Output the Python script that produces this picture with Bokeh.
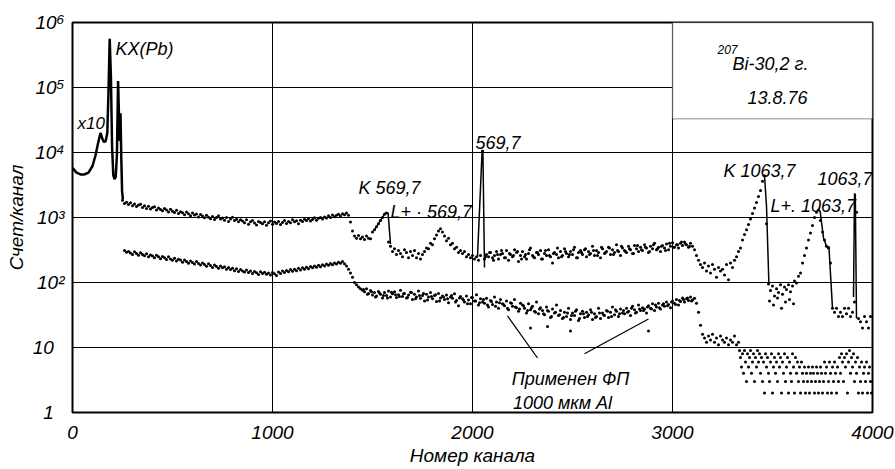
from bokeh.plotting import figure
from bokeh.models import Label, FixedTicker, BoxAnnotation
from bokeh.embed import file_html
from bokeh.resources import INLINE

FONT = "Liberation Sans"

# ---- spectrum without absorber: traced low-energy part (KX(Pb) lines)
kx_channel = [0, 20, 40, 60, 80, 100, 115, 128, 140, 150, 158, 166, 174, 180, 186,
              192, 198, 204, 210, 216, 222, 228, 233, 236, 240, 244, 248, 252]
kx_counts = [5800, 4900, 4600, 4600, 4900, 6200, 9000, 14000, 20000, 16000, 14500,
             15000, 20000, 90000, 560000, 150000, 12000, 4500, 3900, 4200, 9000,
             126000, 30000, 15000, 40000, 8000, 2500, 1900]

# ---- spectrum without absorber: channel contents, 10-channel step from 250
upper_counts = [
    1850, 1640, 1720, 1580, 1690, 1520, 1610, 1470, 1560, 1600,
    1430, 1520, 1380, 1490, 1350, 1420, 1460, 1310, 1400, 1330,
    1270, 1380, 1300, 1210, 1340, 1250, 1190, 1290, 1150, 1230,
    1180, 1100, 1210, 1140, 1060, 1170, 1090, 1130, 1020, 1110,
    1050, 990, 1080, 1010, 960, 1040, 930, 1000, 1060, 950,
    980, 910, 1000, 870, 950, 1010, 900, 940, 860, 920,
    880, 830, 920, 790, 860, 900, 820, 770, 870, 840,
    800, 860, 760, 830, 880, 790, 850, 810, 870, 780,
    840, 900, 810, 870, 830, 920, 860, 890, 800, 910,
    870, 940, 900, 960, 880, 930, 990, 910, 970, 1000,
    950, 1020, 980, 1060, 1000, 1090, 1030, 1080, 1120, 1050,
    1140, 1100, 1170, 1080, 850, 620, 520, 480, 530, 470,
    500, 460, 520, 480, 470, 600, 650, 720, 800, 900,
    1000, 1120, 1170, 420, 360, 300, 330, 270, 310, 280,
    250, 320, 290, 240, 300, 260, 310, 240, 280, 230,
    270, 300, 340, 330, 400, 380, 470, 540, 620, 670,
    600, 520, 440, 480, 380, 400, 330, 350, 290, 310,
    280, 300, 250, 270, 240, 260, 230, 250, 220, 260,
    10500, 230, 270, 250, 290, 240, 260, 300, 230, 270,
    280, 240, 310, 220, 270, 250, 320, 290, 210, 260,
    300, 250, 230, 280, 340, 260, 240, 290, 270, 310,
    230, 280, 260, 320, 250, 200, 290, 270, 240, 300,
    260, 330, 280, 250, 300, 270, 350, 240, 290, 310,
    270, 320, 250, 300, 280, 360, 260, 310, 290, 240,
    330, 280, 300, 350, 270, 320, 290, 380, 300, 260,
    340, 310, 290, 360, 320, 280, 370, 330, 300, 350,
    310, 380, 340, 290, 360, 330, 400, 320, 350, 300,
    370, 340, 390, 320, 360, 410, 350, 380, 340, 400,
    370, 420, 380, 350, 400, 360, 320, 260, 220, 190,
    170, 200, 150, 180, 140, 190, 160, 120, 170, 150,
    160, 130, 190, 110, 200, 170, 220, 250, 300, 340,
    450, 550, 650, 780, 950, 1150, 1400, 1700, 2100, 2600,
    3600, 4400, 800, 95, 75, 88, 62, 80, 70, 92,
    66, 85, 78, 92, 72, 88, 105, 98, 125, 140,
    200, 260, 340, 450, 580, 750, 1000, 1200, 1300, 900,
    600, 450, 360, 340, 200, 40, 35, 40, 30, 35,
    30, 40, 33, 40, 30, 35, 50, 1200, 28, 25,
    20, 30, 25, 20, 30,
]
upper_channel = [250 + 10 * i for i in range(len(upper_counts))]

# extra channel contents in the flat region (odd channels, 20-channel step from 2065)
upper_flat_counts = [
    250, 290, 220, 270, 310, 240, 280, 260, 300, 230,
    270, 320, 250, 290, 230, 310, 260, 280, 340, 250,
    300, 270, 320, 240, 290, 330, 270, 310, 260, 350,
    290, 340, 270, 310, 360, 300, 330, 280, 370, 320,
    350, 300, 380, 330, 360, 310, 400, 350, 380, 420,
    390, 360,
]
upper_flat_channel = [2065 + 20 * i for i in range(len(upper_flat_counts))]

# extra contents in the valley behind K 1063,7 (20-channel step from 3485)
valley_counts = [52, 45, 58, 40, 50, 55, 47]
valley_channel = [3485 + 20 * i for i in range(len(valley_counts))]

# traced peak profiles
k569_channel = [1510, 1563, 1578, 1590]
k569_counts = [650, 1170, 1170, 390]
p569_channel = [2025, 2048, 2052, 2060]
p569_counts = [250, 10500, 10500, 170]
k1063_channel = [3450, 3460, 3470, 3482]
k1063_counts = [4400, 4400, 1500, 95]
l1063_channel = [3728, 3738, 3755, 3770, 3777, 3782, 3800]
l1063_counts = [1300, 1250, 490, 360, 340, 360, 40]
p1063_channel = [3905, 3910, 3914, 3920]
p1063_counts = [60, 2300, 2300, 28]

# ---- spectrum with 1000 um Al absorber, 10-channel step from 260
lower_counts = [
    310, 292, 301, 284, 270, 296, 279, 262, 288, 270,
    258, 276, 249, 266, 255, 240, 262, 248, 231, 252,
    240, 226, 248, 230, 219, 236, 214, 228, 221, 205,
    222, 210, 198, 215, 203, 192, 210, 196, 186, 200,
    190, 178, 194, 182, 170, 186, 176, 165, 180, 168,
    175, 160, 170, 158, 166, 152, 163, 148, 158, 150,
    145, 156, 142, 150, 138, 147, 141, 133, 146, 137,
    144, 134, 140, 130, 142, 136, 128, 145, 138, 150,
    142, 153, 146, 158, 149, 160, 152, 165, 156, 168,
    160, 172, 163, 176, 168, 180, 171, 184, 175, 188,
    180, 192, 184, 196, 188, 200, 192, 205, 198, 210,
    195, 180, 160, 140, 120, 100, 92, 85, 80, 76,
    72, 80, 68, 75, 64, 70, 62, 73, 66, 58,
    70, 63, 74, 60, 67, 72, 59, 65, 76, 61,
    68, 58, 64, 71, 55, 66, 60, 74, 57, 63,
    52, 66, 60, 70, 56, 63, 51, 68, 58, 62,
    55, 64, 49, 60, 57, 67, 53, 44, 61, 56,
    50, 62, 54, 47, 59, 52, 65, 45, 56, 50,
    48, 57, 42, 53, 46, 60, 50, 40, 55, 47,
    44, 52, 38, 49, 43, 55, 41, 36, 48, 45,
    40, 34, 47, 38, 43, 36, 50, 33, 41, 37,
    32, 42, 36, 29, 39, 34, 45, 31, 37, 28,
    35, 30, 40, 27, 34, 31, 38, 26, 33, 36,
    29, 35, 32, 38, 27, 33, 30, 40, 28, 34,
    31, 37, 29, 35, 42, 32, 36, 30, 39, 34,
    33, 40, 36, 31, 43, 38, 35, 45, 37, 41,
    39, 34, 44, 40, 47, 37, 42, 48, 39, 45,
    43, 50, 46, 41, 52, 48, 55, 45, 51, 58,
    50, 56, 53, 60, 54, 57, 48, 35, 22, 16,
    14, 12, 15, 13, 16, 12, 14, 11, 15, 13,
    12, 14, 11, 13, 12, 15, 11, 12,
]
lower_channel = [260 + 10 * i for i in range(len(lower_counts))]

# odd channels of the absorber spectrum (20-channel step from 1455)
lower_odd_counts = [
    78, 66, 72, 60, 69, 63, 58, 71, 65, 61,
    67, 59, 70, 56, 63, 68, 54, 61, 65, 52,
    60, 56, 63, 50, 58, 54, 47, 59, 52, 49,
    55, 45, 51, 43, 49, 46, 40, 48, 42, 39,
    44, 37, 41, 35, 39, 33, 37, 30, 35, 32,
    29, 34, 31, 36, 28, 33, 30, 35, 29, 34,
    32, 36, 30, 38, 33, 37, 35, 40, 34, 39,
    37, 42, 39, 45, 41, 47, 44, 50, 46, 53,
    55, 58, 52,
]
lower_odd_channel = [1455 + 20 * i for i in range(len(lower_odd_counts))]

lower_stray_channel = [2290, 2375, 2490, 2880]
lower_stray_counts = [20, 21, 18, 18]

# low-count tail of the absorber spectrum, 5-channel step from 3335
lower_tail_counts = [
    9, 7, 5, 8, 4, 9, 6, 3, 8, 5, 7, 9, 4, 6, 8, 3, 7, 5, 9, 6,
    8, 4, 7, 3, 6, 2, 8, 5, 7, 4, 3, 6, 8, 2, 5, 7, 4, 6, 3, 8,
    5, 7, 2, 6, 4, 8, 3, 5, 7, 2, 6, 4, 3, 8, 5, 2, 7, 4, 6, 3,
    5, 2, 6, 4, 3, 5, 2, 4, 3, 5, 2, 4, 3, 5, 4, 2, 3, 5, 4, 2,
    3, 5, 4, 2, 3, 6, 4, 5, 2, 3, 6, 4, 2, 5, 3, 6, 4, 2, 5, 3,
    7, 4, 8, 6, 3, 7, 5, 8, 2, 6, 9, 4, 7, 5, 8, 3, 6, 4, 7, 2,
    5, 3, 6, 2, 4, 5, 3, 6, 2, 4, 5, 3, 2,
]
lower_tail_channel = [3335 + 5 * i for i in range(len(lower_tail_counts))]

x_ticks = [0, 1000, 2000, 3000, 4000]
y_ticks = [1, 10, 100, 1000, 10000, 100000, 1000000]
y_tick_labels = ["1\u2007", "10\u2007", "10\u00b2", "10\u00b3", "10\u2074", "10\u2075", "10\u2076"]

p = figure(width=895, height=469, x_range=(0, 4000), y_range=(1, 1e6),
           y_axis_type="log", output_backend="svg", toolbar_location=None,
           min_border_left=72, min_border_right=23, min_border_top=22,
           min_border_bottom=57, background_fill_color="white",
           border_fill_color="white")

p.outline_line_color = "black"
p.outline_line_width = 2
p.xaxis.ticker = FixedTicker(ticks=x_ticks)
p.yaxis.ticker = FixedTicker(ticks=y_ticks)
p.yaxis.major_label_overrides = dict(zip(y_ticks, y_tick_labels))
p.grid.grid_line_color = "black"
p.grid.grid_line_width = 1
p.grid.grid_line_alpha = 1
for ax in (p.xaxis[0], p.yaxis[0]):
    ax.axis_line_color = None
    ax.major_tick_line_color = None
    ax.minor_tick_line_color = None
    ax.major_label_text_font = FONT
    ax.major_label_text_font_style = "italic"
    ax.major_label_text_font_size = "19px"
    ax.major_label_text_color = "black"
    ax.axis_label_text_font = FONT
    ax.axis_label_text_font_style = "italic"
    ax.axis_label_text_font_size = "19px"
    ax.axis_label_text_color = "black"
p.xaxis.axis_label = "Номер канала"
p.yaxis.axis_label = "Счет/канал"
p.xaxis.major_label_standoff = 7
p.xaxis.axis_label_standoff = 3
p.yaxis.major_label_standoff = 2
p.yaxis.axis_label_standoff = 3

# inset caption box in the upper right corner
p.add_layout(BoxAnnotation(left=3000, right=4000, bottom=10 ** 4.52, top=1e6,
                           fill_color="white", fill_alpha=1,
                           line_color="black", line_width=1.5))

# spectra
p.line(kx_channel, kx_counts, line_color="black", line_width=2.5)
for ch, ct in ((k569_channel, k569_counts), (p569_channel, p569_counts),
               (k1063_channel, k1063_counts), (l1063_channel, l1063_counts),
               (p1063_channel, p1063_counts)):
    p.line(ch, ct, line_color="black", line_width=1.5)

dot = dict(marker="circle", size=3.0, fill_color="black", line_color=None)
p.scatter(upper_channel, upper_counts, **dot)
p.scatter(upper_flat_channel, upper_flat_counts, **dot)
p.scatter(valley_channel, valley_counts, **dot)
p.scatter(lower_channel, lower_counts, **dot)
p.scatter(lower_odd_channel, lower_odd_counts, **dot)
p.scatter(lower_stray_channel, lower_stray_counts, **dot)
p.scatter(lower_tail_channel, lower_tail_counts, **dot)

# leader lines from the absorber note to the spectrum
p.segment(x0=[2175, 2880], y0=[30.6, 27.5], x1=[2325, 2560], y1=[6.9, 8.0],
          line_color="black", line_width=1.2)


def note(x, y, text, size="18px", align="left"):
    p.add_layout(Label(x=x, y=y, text=text, text_font=FONT,
                       text_font_style="italic", text_font_size=size,
                       text_color="black", text_align=align,
                       text_baseline="alphabetic"))


note(215, 3.9e5, "KX(Pb)")
note(25, 2.76e4, "x10", size="17px")
note(1430, 2860, "K 569,7")
note(1590, 1216, "L+ · 569,7")
note(2015, 14100, "569,7")
note(3255, 5220, "K 1063,7")
note(3725, 3935, "1063,7")
note(3490, 1514, "L+. 1063,7")
note(3225, 3.9e5, "207", size="12px")
note(3300, 2.32e5, "Bi-30,2 г.")
note(3525, 6.9e4, "13.8.76", align="center")
note(2490, 3.3, "Применен ФП", align="center")
note(2450, 1.41, "1000 мкм Al", align="center")

open("out.html", "w").write(file_html(p, INLINE))
